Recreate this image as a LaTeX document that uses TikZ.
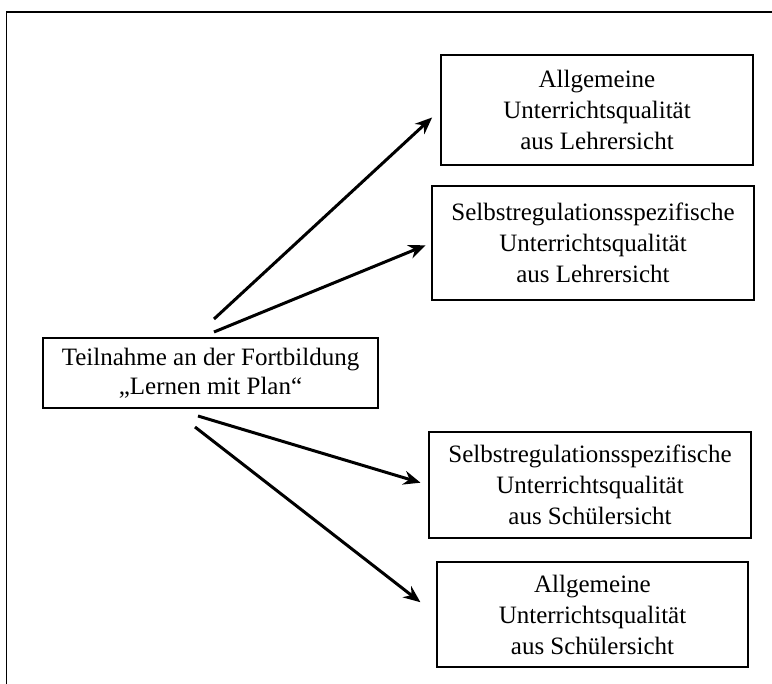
\documentclass[tikz,border=0pt]{standalone}
\usepackage{fontspec}
\setmainfont{Liberation Serif}
\usetikzlibrary{arrows.meta}

\tikzset{
    qualbox/.style={draw, line width=1.6pt, align=center, inner sep=0pt,
        font=\fontsize{25}{31}\selectfont},
    effect/.style={line width=3pt, -{Stealth[length=17pt,width=14pt]}}
}

\begin{document}
\begin{tikzpicture}[x=1pt,y=-1pt]
    \useasboundingbox (0,0) rectangle (772,684);
    % Frame (cut off at right and bottom)
    \draw[line width=1.6pt] (772,12) -- (6.5,12) -- (6.5,684);

    % Predictor
    \node[qualbox, minimum width=335pt, minimum height=70pt,
          font=\fontsize{25}{29}\selectfont] (main) at (210.5,373)
        {Teilnahme an der Fortbildung\\„Lernen mit Plan“};

    % Outcomes
    \node[qualbox, minimum width=312pt, minimum height=110pt] (lehrerAllg) at (597,110)
        {Allgemeine\\Unterrichtsqualität\\aus Lehrersicht};
    \node[qualbox, minimum width=322pt, minimum height=114pt] (lehrerSR) at (593,243)
        {Selbstregulationsspezifische\\Unterrichtsqualität\\aus Lehrersicht};
    \node[qualbox, minimum width=322pt, minimum height=106pt] (schuelerSR) at (590,485)
        {Selbstregulationsspezifische\\Unterrichtsqualität\\aus Schülersicht};
    \node[qualbox, minimum width=311pt, minimum height=105pt] (schuelerAllg) at (592.5,614.5)
        {Allgemeine\\Unterrichtsqualität\\aus Schülersicht};

    % Start points of the arrows
    \coordinate (s1) at (214,319);
    \coordinate (s2) at (214,332);
    \coordinate (s3) at (198,416);
    \coordinate (s4) at (195,427);

    \draw[effect, shorten >=11pt] (s1) -- (lehrerAllg.west);
    \draw[effect, shorten >=6pt] (s2) -- (lehrerSR.west);
    \draw[effect, shorten >=8pt] (s3) -- (schuelerSR.west);
    \draw[effect, shorten >=20pt] (s4) -- (schuelerAllg.west);
\end{tikzpicture}
\end{document}
